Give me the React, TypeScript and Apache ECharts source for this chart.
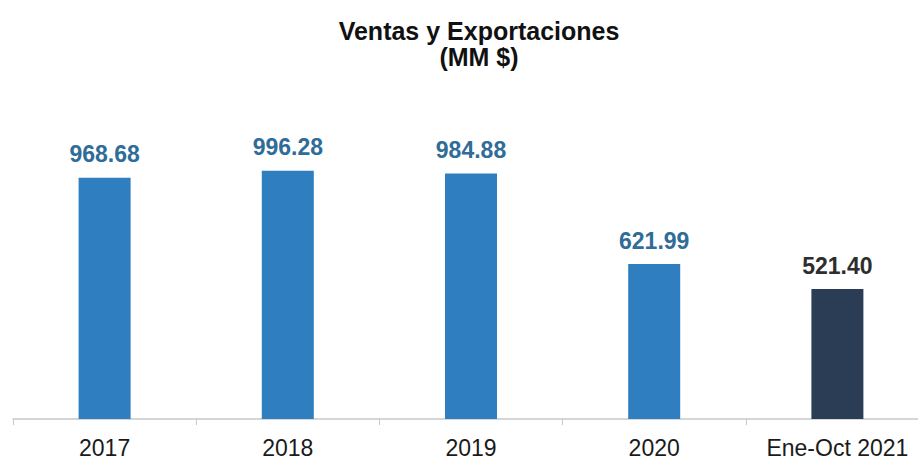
import React, { useEffect, useRef } from "react";
import * as echarts from "echarts";

const categories = ["2017", "2018", "2019", "2020", "Ene-Oct 2021"];
const values = [968.68, 996.28, 984.88, 621.99, 521.4];
const barColors = ["#2E7EC0", "#2E7EC0", "#2E7EC0", "#2E7EC0", "#2B3D54"];
const labelColors = ["#2F6C97", "#2F6C97", "#2F6C97", "#2F6C97", "#2E2E2E"];

export default function App() {
  const ref = useRef<HTMLDivElement>(null);
  useEffect(() => {
    const chart = echarts.init(ref.current!, null, { renderer: "svg" });
    chart.setOption({
      animation: false,
      backgroundColor: "#ffffff",
      title: {
        text: "Ventas y Exportaciones\n(MM $)",
        left: 474,
        textAlign: "center",
        top: 13,
        textStyle: {
          fontFamily: "Liberation Sans, Arial, sans-serif",
          fontWeight: "bold",
          fontSize: 25,
          lineHeight: 26,
          color: "#111",
        },
      },
      grid: { left: 13, width: 916, top: 120, bottom: 40, containLabel: false },
      xAxis: {
        type: "category",
        data: categories,
        axisLine: { lineStyle: { color: "#c8c8c8", width: 1.5 } },
        axisTick: { show: true, interval: 0, length: 6, lineStyle: { color: "#c8c8c8" } },
        axisLabel: {
          interval: 0,
          hideOverlap: false,
          margin: 17,
          fontFamily: "Liberation Sans, Arial, sans-serif",
          fontSize: 23,
          color: "#1a1a1a",
        },
      },
      yAxis: {
        type: "value",
        min: 0,
        max: 1200,
        show: false,
        splitLine: { show: false },
      },
      series: [
        {
          type: "bar",
          barWidth: 52,
          data: values.map((v, i) => ({
            value: v,
            itemStyle: { color: barColors[i] },
            label: { color: labelColors[i] },
          })),
          label: {
            show: true,
            position: "top",
            distance: 12,
            formatter: (p: any) => p.value.toFixed(2),
            fontFamily: "Liberation Sans, Arial, sans-serif",
            fontWeight: "bold",
            fontSize: 23,
          },
        },
      ],
    });
    return () => chart.dispose();
  }, []);
  return (
    <div
      style={{
        position: "fixed",
        left: 0,
        top: 0,
        width: 918,
        height: 459,
        overflow: "hidden",
        background: "#fff",
      }}
    >
      <div ref={ref} style={{ width: 940, height: 459 }} />
    </div>
  );
}
